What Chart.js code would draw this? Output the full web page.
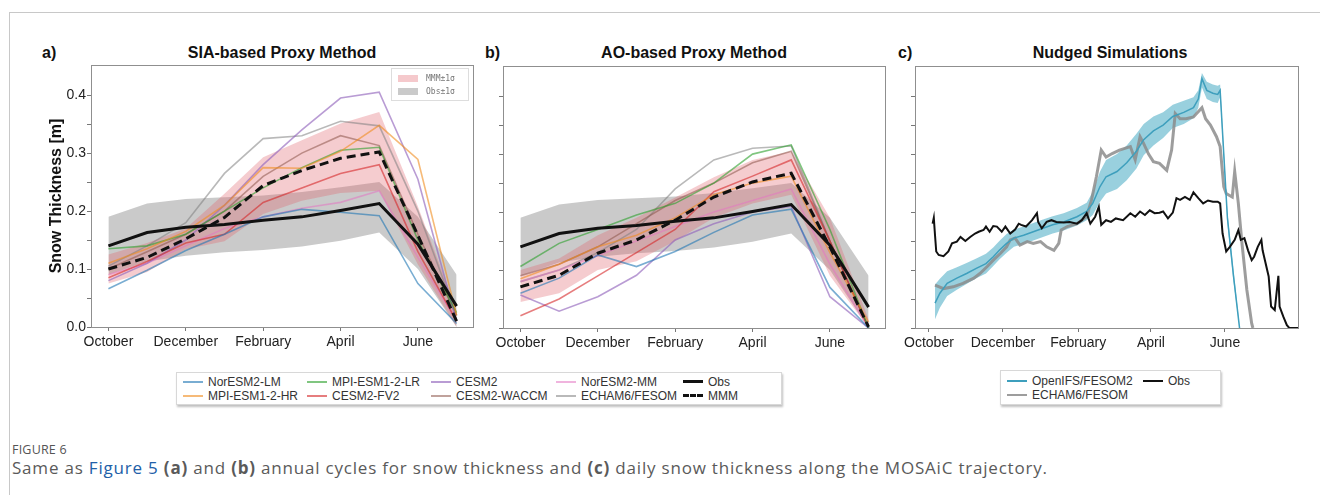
<!DOCTYPE html>
<html>
<head>
<meta charset="utf-8">
<script src="https://cdn.jsdelivr.net/npm/chart.js@4/dist/chart.umd.min.js"></script>
<style>
  body { margin: 0; background: #fff; width: 1320px; height: 495px; overflow: hidden; position: relative; font-family: "Liberation Sans", Arial, sans-serif; }
  .frame { position: absolute; left: 9px; top: 12px; width: 1320px; height: 500px; border-left: 1px solid #c8c8c8; border-top: 1px solid #c8c8c8; }
  canvas { position: absolute; }
  .ttl { position: absolute; font-weight: bold; font-size: 16px; color: #111; white-space: nowrap; transform: translateX(-50%); }
  .lbl { position: absolute; font-weight: bold; font-size: 16px; color: #111; }
  .legend { position: absolute; background: #fff; border: 1px solid #d8d8d8; box-shadow: 1px 2px 2px rgba(0,0,0,0.25); font-size: 12px; color: #333; }
  .legend .item { position: absolute; white-space: nowrap; line-height: 14px; }
  .legend .swatch { display: inline-block; width: 20px; vertical-align: middle; margin-right: 5px; position: relative; top: -1px; }
  .inlegend { position: absolute; left: 391px; top: 68px; width: 76px; height: 31px; border: 1px solid #ddd; background: rgba(255,255,255,0.85); font-family: "DejaVu Sans Mono", monospace; font-size: 8px; color: #777; }
  .inlegend div { position: absolute; left: 6px; white-space: nowrap; }
  .inlegend span { display: inline-block; width: 20px; height: 7px; vertical-align: middle; margin-right: 8px; }
  .cap1 { position: absolute; left: 12px; top: 441px; font-family: "Open Sans", sans-serif; font-size: 12.5px; color: #555; letter-spacing: 0.2px; }
  .cap2 { position: absolute; left: 12px; top: 456px; font-family: "Open Sans", sans-serif; font-size: 17px; letter-spacing: 0.8px; color: #5a5a5a; white-space: nowrap; }
  .cap2 a { color: #2160a8; text-decoration: none; }
</style>
</head>
<body>
<div class="frame"></div>

<div class="lbl" style="left:42px;top:44px">a)</div>
<div class="lbl" style="left:485px;top:44px">b)</div>
<div class="lbl" style="left:898px;top:44px">c)</div>
<div class="ttl" style="left:282px;top:44px">SIA-based Proxy Method</div>
<div class="ttl" style="left:694px;top:44px">AO-based Proxy Method</div>
<div class="ttl" style="left:1110px;top:44px">Nudged Simulations</div>

<canvas id="chartA" width="480" height="320" style="left:0px;top:40px"></canvas>
<canvas id="chartB" width="420" height="320" style="left:480px;top:40px"></canvas>
<canvas id="chartC" width="420" height="320" style="left:900px;top:40px"></canvas>

<div class="inlegend">
  <div style="top:5px"><span style="background:rgba(225,100,110,0.35)"></span>MMM±1σ</div>
  <div style="top:18px"><span style="background:rgba(150,150,150,0.5)"></span>Obs±1σ</div>
</div>

<div class="legend" id="legendAB" style="left:176px;top:372px;width:604px;height:31px"></div>
<div class="legend" id="legendC" style="left:1000px;top:370px;width:219px;height:33px"></div>

<div class="cap1">FIGURE 6</div>
<div class="cap2">Same as <a>Figure 5</a> <b>(a)</b> and <b>(b)</b> annual cycles for snow thickness and <b>(c)</b> daily snow thickness along the MOSAiC trajectory.</div>

<script>
// months of the annual cycle (index 0 = October)
const months = ['October', 'November', 'December', 'January', 'February', 'March', 'April', 'May', 'June', 'July'];
const monthTickIdx = [0, 2, 4, 6, 8];
const yTicks = [0, 0.05, 0.1, 0.15, 0.2, 0.25, 0.3, 0.35, 0.4];

const modelNames = ['NorESM2-LM', 'MPI-ESM1-2-HR', 'MPI-ESM1-2-LR', 'CESM2-FV2', 'CESM2', 'CESM2-WACCM', 'NorESM2-MM', 'ECHAM6/FESOM'];
const modelColors = ['rgba(31,119,180,0.6)', 'rgba(240,140,30,0.6)', 'rgba(44,160,44,0.6)', 'rgba(214,39,40,0.6)',
  'rgba(148,103,189,0.65)', 'rgba(140,86,75,0.55)', 'rgba(227,119,194,0.55)', 'rgba(127,127,127,0.55)'];

// a) SIA-based proxy
const siaNorESM2LM = [0.066, 0.098, 0.132, 0.16, 0.19, 0.203, 0.198, 0.192, 0.075, 0.006];
const siaMPIHR = [0.11, 0.135, 0.165, 0.21, 0.275, 0.274, 0.303, 0.348, 0.289, 0.02];
const siaMPILR = [0.135, 0.14, 0.16, 0.2, 0.24, 0.275, 0.305, 0.31, 0.15, 0.025];
const siaCESM2FV2 = [0.085, 0.113, 0.145, 0.16, 0.215, 0.24, 0.265, 0.28, 0.13, 0.01];
const siaCESM2 = [0.08, 0.11, 0.15, 0.21, 0.28, 0.34, 0.395, 0.405, 0.255, 0.01];
const siaWACCM = [0.1, 0.13, 0.16, 0.2, 0.26, 0.3, 0.33, 0.313, 0.16, 0.02];
const siaNorESM2MM = [0.09, 0.11, 0.14, 0.17, 0.19, 0.205, 0.215, 0.235, 0.12, 0.01];
const siaECHAM = [0.105, 0.14, 0.18, 0.265, 0.325, 0.33, 0.355, 0.347, 0.2, 0.02];
const siaMMM = [0.10, 0.12, 0.152, 0.189, 0.244, 0.27, 0.291, 0.302, 0.158, 0.01];
const siaMMMHi = [0.125, 0.145, 0.17, 0.23, 0.293, 0.322, 0.351, 0.371, 0.208, 0.03];
const siaMMMLo = [0.075, 0.095, 0.134, 0.148, 0.195, 0.218, 0.231, 0.235, 0.108, 0.0];

// b) AO-based proxy
const aoNorESM2LM = [0.06, 0.086, 0.126, 0.106, 0.132, 0.165, 0.195, 0.205, 0.07, 0.0];
const aoMPIHR = [0.085, 0.11, 0.14, 0.16, 0.19, 0.23, 0.25, 0.262, 0.13, 0.01];
const aoMPILR = [0.106, 0.146, 0.17, 0.195, 0.215, 0.25, 0.3, 0.316, 0.17, 0.0];
const aoCESM2FV2 = [0.021, 0.05, 0.09, 0.13, 0.17, 0.235, 0.262, 0.29, 0.15, 0.0];
const aoCESM2 = [0.057, 0.029, 0.054, 0.091, 0.152, 0.18, 0.2, 0.21, 0.054, 0.0];
const aoWACCM = [0.09, 0.11, 0.14, 0.18, 0.22, 0.25, 0.285, 0.305, 0.15, 0.0];
const aoNorESM2MM = [0.08, 0.1, 0.125, 0.15, 0.175, 0.2, 0.22, 0.24, 0.11, 0.0];
const aoECHAM = [0.08, 0.1, 0.13, 0.17, 0.24, 0.29, 0.31, 0.314, 0.15, 0.0];
const aoMMM = [0.071, 0.091, 0.129, 0.152, 0.186, 0.226, 0.252, 0.267, 0.14, 0.002];
const aoMMMHi = [0.1, 0.12, 0.16, 0.19, 0.225, 0.26, 0.29, 0.305, 0.19, 0.015];
const aoMMMLo = [0.045, 0.06, 0.1, 0.115, 0.15, 0.19, 0.215, 0.23, 0.09, 0.0];

// observations (monthly), same in a) and b)
const obsMonthly = [0.14, 0.163, 0.172, 0.177, 0.184, 0.19, 0.201, 0.213, 0.143, 0.036];
const obsMonthlyHi = [0.19, 0.213, 0.221, 0.224, 0.227, 0.233, 0.241, 0.25, 0.19, 0.09];
const obsMonthlyLo = [0.09, 0.113, 0.123, 0.129, 0.133, 0.139, 0.149, 0.163, 0.1, 0.0];

// c) daily, days since 1 October 2019
const dayTicks = [0, 61, 123, 183, 244];
const dayTickLabels = ['October', 'December', 'February', 'April', 'June'];

const obsDays = [3, 4, 5, 6, 8, 12, 16, 19, 23, 26, 30, 34, 38, 41, 45, 47, 50, 53, 56, 60, 63, 67, 71, 74, 76, 80, 85, 89, 90, 93,
  97, 101, 105, 111, 116, 122, 126, 130, 133, 137, 140, 142, 146, 150, 154, 160, 166, 170, 174, 178, 182, 186, 190, 193, 197,
  201, 204, 207, 211, 215, 218, 222, 226, 230, 234, 238, 240, 242, 245, 248, 252, 255, 257, 260, 263, 266, 268, 271, 274, 275,
  280, 282, 285, 288, 289, 292, 295, 297, 305];
const obsDaily = [0.18, 0.19, 0.16, 0.132, 0.126, 0.124, 0.132, 0.146, 0.149, 0.157, 0.15, 0.157, 0.163, 0.166, 0.169, 0.175, 0.166, 0.176, 0.175, 0.166, 0.175, 0.163, 0.17, 0.18, 0.178, 0.175, 0.186, 0.198, 0.183, 0.172,
  0.183, 0.186, 0.183, 0.182, 0.183, 0.18, 0.186, 0.198, 0.18, 0.192, 0.209, 0.178, 0.186, 0.183, 0.189, 0.186, 0.198, 0.192, 0.201, 0.195, 0.203, 0.198, 0.199, 0.201, 0.189,
  0.199, 0.224, 0.221, 0.226, 0.221, 0.234, 0.224, 0.215, 0.22, 0.218, 0.218, 0.215, 0.163, 0.132, 0.14, 0.152, 0.169, 0.152, 0.155, 0.134, 0.117, 0.123, 0.14, 0.152, 0.134,
  0.089, 0.037, 0.031, 0.09, 0.037, 0.02, 0.005, 0.0, 0.0];

const oifsDays = [5, 9, 15, 23, 31, 39, 47, 53, 58, 64, 70, 78, 86, 94, 102, 111, 122, 130, 135, 141, 146, 155, 163, 171, 177, 185, 193, 201, 210, 218, 222, 225, 229, 234, 238, 240, 246, 251, 256];
const oifsMean = [0.043, 0.06, 0.077, 0.086, 0.094, 0.103, 0.111, 0.123, 0.134, 0.146, 0.155, 0.16, 0.166, 0.172, 0.178, 0.183, 0.192, 0.201, 0.215, 0.244, 0.261, 0.27, 0.285, 0.305, 0.325, 0.34, 0.35, 0.365, 0.372, 0.38, 0.395, 0.43, 0.41, 0.405, 0.403, 0.41, 0.19, 0.09, 0.0];
const oifsHi = [0.075, 0.085, 0.098, 0.105, 0.112, 0.12, 0.128, 0.139, 0.15, 0.162, 0.17, 0.175, 0.181, 0.187, 0.193, 0.198, 0.207, 0.216, 0.235, 0.27, 0.29, 0.3, 0.315, 0.335, 0.352, 0.365, 0.372, 0.385, 0.392, 0.398, 0.41, 0.44, 0.425, 0.42, 0.418, 0.42, 0.2, 0.1, 0.005];
const oifsLo = [0.015, 0.035, 0.055, 0.066, 0.076, 0.086, 0.094, 0.107, 0.118, 0.13, 0.14, 0.145, 0.151, 0.157, 0.163, 0.168, 0.177, 0.186, 0.195, 0.218, 0.232, 0.24, 0.255, 0.275, 0.298, 0.315, 0.328, 0.345, 0.352, 0.362, 0.38, 0.415, 0.395, 0.39, 0.388, 0.398, 0.18, 0.08, 0.0];

const echamDays = [5, 12, 20, 28, 37, 42, 48, 53, 59, 64, 67, 71, 75, 81, 86, 92, 97, 103, 107, 109, 114, 122, 130, 134, 138, 142, 146, 151,
  157, 166, 170, 174, 177, 181, 185, 190, 196, 200, 203, 207, 212, 218, 225, 228, 232, 237, 240, 243, 245, 250, 252, 255, 258, 262, 266, 267];
const echamDaily = [0.074, 0.068, 0.071, 0.077, 0.086, 0.094, 0.106, 0.117, 0.129, 0.14, 0.152, 0.155, 0.143, 0.149, 0.146, 0.149, 0.14, 0.134, 0.146, 0.169, 0.175, 0.18, 0.192, 0.221, 0.261, 0.307, 0.295, 0.301,
  0.307, 0.313, 0.29, 0.33, 0.318, 0.3, 0.287, 0.284, 0.272, 0.307, 0.37, 0.361, 0.361, 0.364, 0.38, 0.361, 0.35, 0.33, 0.313, 0.244, 0.232, 0.226, 0.27, 0.215, 0.146, 0.066, 0.008, 0.0];

const framePlugin = {
  id: 'frame',
  afterDraw(chart) {
    const { ctx, chartArea: a } = chart;
    ctx.save();
    ctx.strokeStyle = '#8f8f8f';
    ctx.lineWidth = 1;
    ctx.strokeRect(Math.round(a.left) + 0.5, Math.round(a.top) + 0.5, Math.round(a.width) - 1, Math.round(a.height));
    ctx.restore();
  }
};

function pts(vals) { return vals.map((v, i) => ({ x: i, y: v })); }
function dayPts(days, vals) { return days.map((d, i) => ({ x: d, y: vals[i] })); }

function line(label, data, color, width, order, dash) {
  return { label, data, borderColor: color, borderWidth: width, borderDash: dash || [], pointRadius: 0, tension: 0, fill: false, order };
}
function band(label, data, color, order, fill) {
  return { label, data, borderWidth: 0, borderColor: 'transparent', backgroundColor: color, pointRadius: 0, tension: 0, fill, order };
}

function makeOptions(cfg) {
  return {
    responsive: false,
    animation: false,
    layout: { padding: cfg.padding },
    plugins: { legend: { display: false }, tooltip: { enabled: false } },
    scales: {
      x: {
        type: 'linear', min: cfg.xmin, max: cfg.xmax,
        afterBuildTicks: s => { s.ticks = cfg.xticks.map(v => ({ value: v })); },
        afterFit: s => { s.height = cfg.xh; },
        ticks: { autoSkip: false, maxRotation: 0, padding: 3, color: '#222', font: { size: 14, family: 'Liberation Sans' },
          callback: v => cfg.xlabels[cfg.xticks.indexOf(v)] },
        grid: { drawOnChartArea: false, tickLength: 4, color: '#777' },
        border: { display: false }
      },
      y: {
        min: 0, max: 0.452,
        afterBuildTicks: s => { s.ticks = yTicks.map(v => ({ value: v })); },
        afterFit: s => { s.width = cfg.yw; },
        ticks: { padding: 1, color: '#222', font: { size: 14, family: 'Liberation Sans' },
          callback: v => (cfg.ylabels && Math.round(v * 100) % 10 === 0) ? v.toFixed(1) : '' },
        grid: { drawOnChartArea: false, tickLength: 4, color: '#777' },
        border: { display: false },
        title: cfg.ytitle ? { display: true, text: cfg.ytitle, color: '#111', font: { size: 16, weight: 'bold', family: 'Liberation Sans' }, padding: { top: 47, bottom: 0 } } : { display: false }
      }
    }
  };
}

function proxyDatasets(models, mmm, mmmHi, mmmLo) {
  const ds = [
    band('Obs+1σ', pts(obsMonthlyHi), 'rgba(150,150,150,0.5)', 10, '+1'),
    band('Obs-1σ', pts(obsMonthlyLo), 'rgba(150,150,150,0.5)', 10, false),
    band('MMM+1σ', pts(mmmHi), 'rgba(225,100,110,0.33)', 9, '+1'),
    band('MMM-1σ', pts(mmmLo), 'rgba(225,100,110,0.33)', 9, false)
  ];
  models.forEach((m, i) => ds.push(line(modelNames[i], pts(m), modelColors[i], 1.6, 5)));
  ds.push(line('MMM', pts(mmm), '#111', 3, 1, [9, 5]));
  ds.push(line('Obs', pts(obsMonthly), '#111', 3, 0));
  return ds;
}

new Chart(document.getElementById('chartA'), {
  type: 'line',
  data: { datasets: proxyDatasets([siaNorESM2LM, siaMPIHR, siaMPILR, siaCESM2FV2, siaCESM2, siaWACCM, siaNorESM2MM, siaECHAM], siaMMM, siaMMMHi, siaMMMLo) },
  options: makeOptions({ padding: { left: 0, top: 25, right: 6, bottom: 0 }, xmin: -0.45, xmax: 9.45, xticks: monthTickIdx,
    xlabels: monthTickIdx.map(i => months[i]), xh: 33, yw: 91, ylabels: true, ytitle: 'Snow Thickness [m]' }),
  plugins: [framePlugin]
});

new Chart(document.getElementById('chartB'), {
  type: 'line',
  data: { datasets: proxyDatasets([aoNorESM2LM, aoMPIHR, aoMPILR, aoCESM2FV2, aoCESM2, aoWACCM, aoNorESM2MM, aoECHAM], aoMMM, aoMMMHi, aoMMMLo) },
  options: makeOptions({ padding: { left: 0, top: 26, right: 14, bottom: 0 }, xmin: -0.45, xmax: 9.45, xticks: monthTickIdx,
    xlabels: monthTickIdx.map(i => months[i]), xh: 32, yw: 23, ylabels: false }),
  plugins: [framePlugin]
});

new Chart(document.getElementById('chartC'), {
  type: 'line',
  data: {
    datasets: [
      band('OpenIFS+1σ', dayPts(oifsDays, oifsHi), 'rgba(70,170,195,0.55)', 5, '+1'),
      band('OpenIFS-1σ', dayPts(oifsDays, oifsLo), 'rgba(70,170,195,0.55)', 5, false),
      line('ECHAM6/FESOM', dayPts(echamDays, echamDaily), 'rgba(140,140,140,0.85)', 3, 3),
      line('OpenIFS/FESOM2', dayPts(oifsDays, oifsMean), '#3e9fbd', 1.5, 2),
      line('Obs', dayPts(obsDays, obsDaily), '#111', 2, 0)
    ]
  },
  options: makeOptions({ padding: { left: 0, top: 26, right: 21, bottom: 0 }, xmin: -11.5, xmax: 305, xticks: dayTicks,
    xlabels: dayTickLabels, xh: 32, yw: 15, ylabels: false }),
  plugins: [framePlugin]
});

// figure legends (matplotlib fills column by column)
function swatch(color, width, dash) {
  if (dash) {
    return `<span class="swatch" style="height:0;border-top:${width}px dashed ${color}"></span>`;
  }
  return `<span class="swatch" style="height:${width}px;background:${color}"></span>`;
}
const legendAB = document.getElementById('legendAB');
const colLeft = [6, 130, 254, 379, 506];
modelNames.forEach((name, i) => {
  const col = Math.floor(i / 2), row = i % 2;
  legendAB.innerHTML += `<div class="item" style="left:${colLeft[col]}px;top:${2 + row * 14}px">${swatch(modelColors[i], 2)}${name}</div>`;
});
legendAB.innerHTML += `<div class="item" style="left:${colLeft[4]}px;top:2px">${swatch('#111', 3)}Obs</div>`;
legendAB.innerHTML += `<div class="item" style="left:${colLeft[4]}px;top:16px">${swatch('#111', 3, true)}MMM</div>`;

const legendC = document.getElementById('legendC');
legendC.innerHTML = `<div class="item" style="left:6px;top:3px">${swatch('#3e9fbd', 2)}OpenIFS/FESOM2</div>` +
  `<div class="item" style="left:6px;top:17px">${swatch('rgba(140,140,140,0.85)', 2)}ECHAM6/FESOM</div>` +
  `<div class="item" style="left:142px;top:3px">${swatch('#111', 2)}Obs</div>`;
</script>
</body>
</html>
